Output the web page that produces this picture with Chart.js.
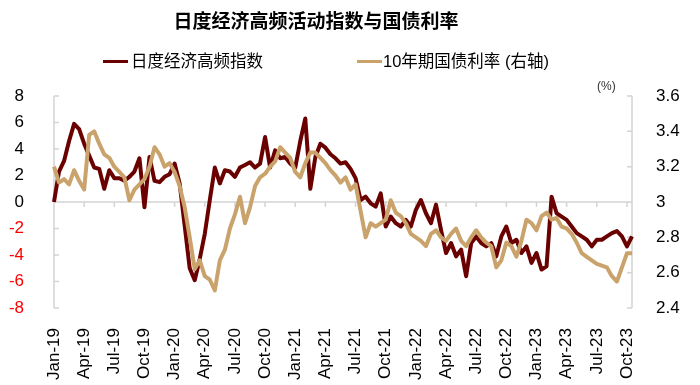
<!DOCTYPE html>
<html>
<head>
<meta charset="utf-8">
<script src="https://cdn.jsdelivr.net/npm/chart.js@4.4.1/dist/chart.umd.min.js"></script>
<style>
  body { margin: 0; background: #fff; }
  #wrap { position: relative; width: 700px; height: 385px; }
  .txt { position: absolute; white-space: nowrap; color: #000; font-family: "Liberation Sans", "Noto Sans CJK SC", sans-serif; }
  #title { left: 0; top: 7px; width: 632px; text-align: center; font-size: 19px; font-weight: bold; line-height: 26px; font-family: "Noto Sans CJK SC", sans-serif; }
  .swatch { position: absolute; height: 3px; width: 25px; }
  .leg { font-size: 16.5px; line-height: 22px; top: 50px; }
</style>
</head>
<body>
<div id="wrap">
  <canvas id="chart" width="700" height="385"></canvas>
  <div id="title" class="txt">日度经济高频活动指数与国债利率</div>
  <div class="swatch" style="left:103px;top:60px;background:#6b0000"></div>
  <div class="txt leg" style="left:131px">日度经济高频指数</div>
  <div class="swatch" style="left:357px;top:60px;background:#c9a26c"></div>
  <div class="txt leg" style="left:383px">10年期国债利率 (右轴)</div>
  <div class="txt" style="left:597px;top:79px;font-size:12px;color:#333">(%)</div>
</div>
<script>
// semi-monthly readings, Jan 2019 .. Oct 2023
const econIndex = [
  0, 2.3, 3.1, 4.6, 5.9, 5.5, 4.4, 3.5, 2.6, 2.5, 1.0, 2.4, 1.8, 1.8, 1.6, 1.9, 2.3, 3.3, -0.4, 3.4, 1.6, 1.5, 1.9, 2.1, 2.9, 1.4, -1.8, -5.0, -5.9,
  -4.3, -2.4, 0.15, 2.6, 1.4, 2.4, 2.3, 1.9, 2.6, 2.8, 3.0, 2.6, 2.9, 4.9, 2.6, 3.9, 3.3, 3.4, 2.9, 2.6, 4.6, 6.3, 1.0, 3.4, 4.4, 4.1, 3.6, 3.3, 2.9,
  3.0, 2.5, 1.8, 0.15, 0.4, -0.1, -0.35, 0.65, -1.85, -1.1, -1.6, -1.85, -1.35, -1.85, -0.6, 0.15, -0.85, -1.6, -0.2, -2.1, -3.85, -3.1, -4.1, -3.6, -5.6, -3.1, -2.6, -3.1, -3.35,
  -3.1, -4.1, -2.6, -1.85, -3.1, -2.85, -3.85, -3.35, -4.6, -3.85, -5.1, -4.85, 0.4, -0.85, -1.1, -1.35, -1.85, -2.35, -2.6, -2.85, -3.35, -2.85, -2.85, -2.6, -2.35, -2.2, -2.6, -3.35, -2.6
]
const bondYield = [
  3.20, 3.11, 3.13, 3.10, 3.18, 3.12, 3.07, 3.38, 3.40, 3.33, 3.27, 3.25, 3.20, 3.17, 3.14, 3.01, 3.07, 3.10, 3.13, 3.20, 3.31, 3.27, 3.20, 3.22, 3.17, 3.09, 2.97, 2.80, 2.62,
  2.67, 2.58, 2.56, 2.50, 2.67, 2.73, 2.85, 2.93, 3.03, 2.88, 2.97, 3.09, 3.14, 3.16, 3.20, 3.23, 3.31, 3.28, 3.25, 3.17, 3.14, 3.22, 3.28, 3.28, 3.25, 3.22, 3.18, 3.15, 3.11,
  3.14, 3.07, 3.10, 2.95, 2.80, 2.88, 2.86, 2.88, 2.90, 3.01, 2.94, 2.92, 2.88, 2.82, 2.80, 2.78, 2.75, 2.82, 2.84, 2.80, 2.78, 2.82, 2.85, 2.78, 2.75, 2.80, 2.84, 2.80, 2.77,
  2.75, 2.63, 2.67, 2.77, 2.75, 2.69, 2.78, 2.90, 2.88, 2.84, 2.92, 2.94, 2.90, 2.91, 2.86, 2.85, 2.82, 2.77, 2.71, 2.69, 2.67, 2.65, 2.64, 2.63, 2.58, 2.55, 2.63, 2.71, 2.71
]
const tickLabels = ['Jan-19', 'Apr-19', 'Jul-19', 'Oct-19', 'Jan-20', 'Apr-20', 'Jul-20', 'Oct-20',
  'Jan-21', 'Apr-21', 'Jul-21', 'Oct-21', 'Jan-22', 'Apr-22', 'Jul-22', 'Oct-22',
  'Jan-23', 'Apr-23', 'Jul-23', 'Oct-23']

const periods = []
for (let y = 2019; y <= 2023; y++) {
  for (let m = 1; m <= 12; m++) {
    if (y === 2023 && m > 10) break
    const mm = String(m).padStart(2, '0')
    periods.push(`${y}-${mm}-01`, `${y}-${mm}-16`)
  }
}

const axisColor = '#d4d4d4'
const tickFont = { family: 'Liberation Sans', size: 17 }

// axis lines, zero line and inside tick marks like the original
const axesPlugin = {
  id: 'axes',
  beforeDatasetsDraw(chart) {
    const { ctx, chartArea: a, scales } = chart
    const y0 = scales.y.getPixelForValue(0)
    ctx.save()
    ctx.strokeStyle = axisColor
    ctx.lineWidth = 1.5
    ctx.beginPath()
    ctx.moveTo(a.left, y0); ctx.lineTo(a.right, y0)
    ctx.moveTo(a.left, a.top); ctx.lineTo(a.left, a.bottom)
    ctx.moveTo(a.right, a.top); ctx.lineTo(a.right, a.bottom)
    scales.y.ticks.forEach(t => {
      const py = scales.y.getPixelForValue(t.value)
      ctx.moveTo(a.left, py); ctx.lineTo(a.left + 5, py)
    })
    scales.y1.ticks.forEach(t => {
      const py = scales.y1.getPixelForValue(t.value)
      ctx.moveTo(a.right - 5, py); ctx.lineTo(a.right, py)
    })
    periods.forEach((p, i) => {
      if (i % 6 !== 0) return
      const px = scales.x.getPixelForValue(i)
      ctx.moveTo(px, y0); ctx.lineTo(px, y0 + 5)
    })
    ctx.stroke()
    ctx.restore()
  }
}

new Chart(document.getElementById('chart'), {
  type: 'line',
  data: {
    labels: periods,
    datasets: [
      {
        label: '日度经济高频指数',
        data: econIndex,
        yAxisID: 'y',
        borderColor: '#6b0000',
        borderWidth: 4,
        borderJoinStyle: 'round',
        pointRadius: 0,
        tension: 0,
        order: 2
      },
      {
        label: '10年期国债利率 (右轴)',
        data: bondYield,
        yAxisID: 'y1',
        borderColor: '#c9a26c',
        borderWidth: 4,
        borderJoinStyle: 'round',
        pointRadius: 0,
        tension: 0,
        order: 1
      }
    ]
  },
  options: {
    responsive: false,
    animation: false,
    devicePixelRatio: 1,
    layout: { padding: { top: 96, left: 0, right: 0, bottom: 0 } },
    plugins: { legend: { display: false }, tooltip: { enabled: false } },
    scales: {
      x: {
        type: 'category',
        grid: { display: false },
        border: { display: false },
        afterFit: s => { s.height = 77 },
        ticks: {
          autoSkip: false,
          minRotation: 90,
          maxRotation: 90,
          padding: 12,
          color: '#000',
          font: tickFont,
          callback: (v, i) => (i % 6 === 0 ? tickLabels[i / 6] : '')
        }
      },
      y: {
        position: 'left',
        min: -8,
        max: 8,
        grid: { display: false },
        border: { display: false },
        afterFit: s => { s.width = 54 },
        ticks: {
          stepSize: 2,
          padding: 22,
          font: tickFont,
          color: c => (c.tick.value < 0 ? '#ff0000' : '#000')
        }
      },
      y1: {
        position: 'right',
        min: 2.4,
        max: 3.6,
        grid: { display: false },
        border: { display: false },
        afterFit: s => { s.width = 68 },
        ticks: {
          stepSize: 0.2,
          padding: 16,
          font: tickFont,
          color: '#000',
          callback: v => String(Number(v.toFixed(1)))
        }
      }
    }
  },
  plugins: [axesPlugin]
})
</script>
</body>
</html>
